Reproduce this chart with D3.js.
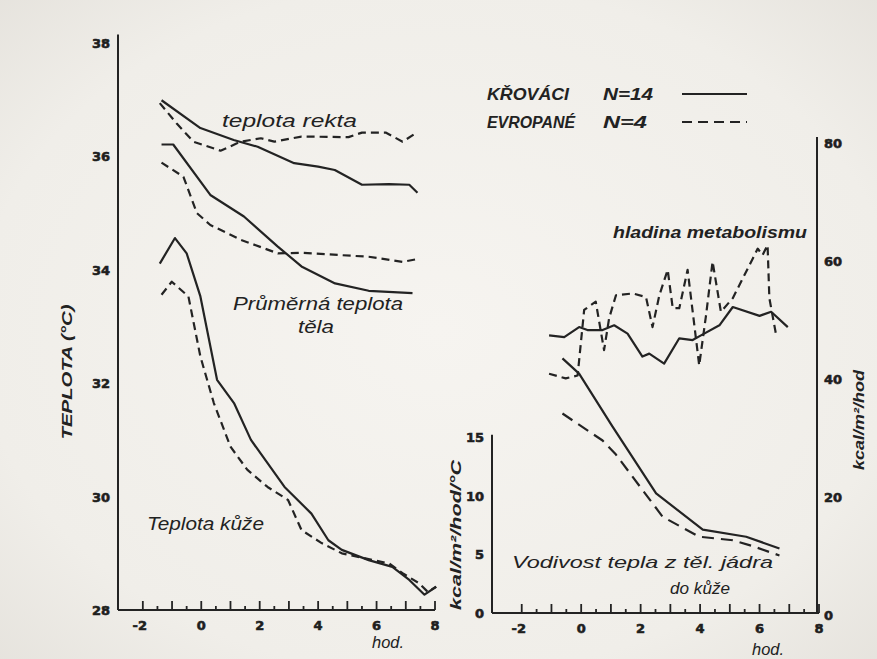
<!DOCTYPE html>
<html>
<head>
<meta charset="utf-8">
<script src="https://cdn.jsdelivr.net/npm/d3@7"></script>
<style>
  html, body { margin: 0; padding: 0; background: #efede8; }
  svg { display: block; }
  .tick-lbl { font-family: "DejaVu Sans", sans-serif; font-weight: bold; font-size: 13px; fill: #1e1e1e; stroke: #1e1e1e; stroke-width: 0.6px; }
  .hand { font-family: "Liberation Sans", "DejaVu Sans", sans-serif; font-style: italic; fill: #222; }
</style>
</head>
<body>
<svg id="chart" width="877" height="659"></svg>
<script>
// Hours relative to start of exposure; temperatures in °C
const xTicksLabelled = [-2, 0, 2, 4, 6, 8];
const tempTicks = [28, 30, 32, 34, 36, 38];
const condTicks = [0, 5, 10, 15];
const metTicks = [0, 20, 40, 60, 80];

// Rectal temperature
const rectalKrovaci = [[-1.36,36.99],[-0.03,36.50],[1.11,36.29],[1.93,36.17],[3.18,35.88],[4.0,35.82],[4.57,35.76],[5.5,35.50],[6.42,35.51],[7.12,35.50],[7.4,35.36]];
const rectalEvropane = [[-1.42,36.94],[-0.84,36.58],[-0.27,36.26],[0.66,36.10],[1.35,36.26],[2.04,36.32],[2.5,36.26],[3.43,36.35],[5.04,36.34],[5.5,36.42],[6.31,36.42],[6.89,36.26],[7.35,36.41]];

// Mean body temperature
const bodyKrovaci = [[-1.36,36.21],[-0.96,36.21],[0.31,35.32],[1.46,34.94],[2.62,34.41],[3.43,34.06],[4.58,33.76],[5.73,33.63],[7.23,33.59]];
const bodyEvropane = [[-1.36,35.89],[-0.61,35.64],[-0.15,35.00],[0.31,34.79],[1.35,34.53],[2.62,34.29],[3.43,34.30],[5.73,34.23],[6.89,34.14],[7.4,34.19]];

// Skin temperature
const skinKrovaci = [[-1.42,34.11],[-0.9,34.56],[-0.5,34.29],[-0.03,33.53],[0.54,32.06],[1.12,31.65],[1.7,31.0],[2.85,30.17],[3.77,29.70],[4.35,29.23],[4.81,29.06],[5.73,28.88],[6.54,28.76],[7.12,28.53],[7.64,28.27],[8.04,28.41]];
const skinEvropane = [[-1.36,33.56],[-1.01,33.79],[-0.44,33.53],[-0.03,32.47],[0.43,31.65],[1.0,30.88],[1.58,30.47],[2.27,30.17],[2.97,29.94],[3.43,29.41],[4.12,29.18],[4.81,29.0],[6.43,28.82],[6.89,28.65],[7.46,28.47],[7.75,28.32],[8.04,28.41]];

// Metabolic rate, kcal/m²/hod
const metKrovaci = [[-1.08,47.4],[-0.57,47.1],[-0.07,48.8],[0.21,48.3],[0.72,48.3],[1.11,49.1],[1.56,47.7],[2.06,43.8],[2.29,44.3],[2.79,42.6],[3.3,46.9],[3.75,46.6],[4.03,47.4],[4.65,49.1],[5.1,52.2],[6.0,50.7],[6.39,51.4],[6.95,48.8]];
const metEvropane = [[-1.08,40.9],[-0.52,40.1],[-0.12,40.6],[0.1,51.7],[0.49,53.1],[0.77,44.9],[0.94,50.3],[1.17,54.2],[1.73,54.5],[2.18,53.9],[2.4,48.8],[2.63,54.2],[2.91,58.5],[3.08,52.0],[3.3,52.0],[3.58,58.5],[3.86,46.9],[3.97,42.3],[4.2,50.8],[4.42,59.9],[4.7,51.4],[5.1,53.7],[5.77,60.4],[5.94,62.1],[6.1,61.0],[6.27,62.7],[6.33,53.7],[6.56,47.4]];

// Heat conductance core -> skin, kcal/m²/hod/°C
const condKrovaci = [[-0.63,21.7],[-0.07,20.4],[1.05,15.9],[2.52,10.2],[4.09,7.1],[5.55,6.5],[6.67,5.5]];
const condEvropane = [[-0.63,17.0],[0.72,14.7],[1.17,13.5],[2.74,8.2],[3.97,6.5],[5.1,6.2],[5.77,5.7],[6.67,4.9]];

const legendRows = [
  { group: "KŘOVÁCI", n: "N=14", dash: null },
  { group: "EVROPANÉ", n: "N=4", dash: "10,6" }
];

const INK = "#232323";
const DASH = "8,5";
const svg = d3.select("#chart");

// paper background with a slight darkening towards the edges
const defs = svg.append("defs");
const grad = defs.append("radialGradient").attr("id", "paper").attr("cx", "50%").attr("cy", "50%").attr("r", "75%");
grad.append("stop").attr("offset", "0%").attr("stop-color", "#f6f4f0");
grad.append("stop").attr("offset", "70%").attr("stop-color", "#f0eee9");
grad.append("stop").attr("offset", "100%").attr("stop-color", "#e4e1db");
svg.append("rect").attr("width", 877).attr("height", 659).attr("fill", "url(#paper)");

const halfHours = d3.range(-2, 8.01, 0.5);

// ---------- left panel: temperatures ----------
const xL = d3.scaleLinear().domain([-2.85, 8]).range([118, 435]);
const yT = d3.scaleLinear().domain([28, 38]).range([610, 43]);

const gL = svg.append("g");
gL.append("line").attr("x1", xL(-2.85)).attr("x2", xL(-2.85))
  .attr("y1", yT(28)).attr("y2", yT(38.15)).attr("stroke", INK).attr("stroke-width", 2);
gL.append("line").attr("x1", xL(-2.85)).attr("x2", xL(8))
  .attr("y1", yT(28)).attr("y2", yT(28)).attr("stroke", INK).attr("stroke-width", 2);

function drawHourTicks(g, x, yBase) {
  g.selectAll(null).data(halfHours).enter().append("line")
    .attr("x1", d => x(d)).attr("x2", d => x(d))
    .attr("y1", yBase).attr("y2", d => yBase - (Number.isInteger(d) ? 9 : 4))
    .attr("stroke", INK).attr("stroke-width", 1.8);
  g.selectAll(null).data(xTicksLabelled).enter().append("text")
    .attr("class", "tick-lbl").attr("x", d => x(d) - (d < 0 ? 3 : 0)).attr("y", yBase + 20)
    .attr("text-anchor", "middle").text(d => d);
}
drawHourTicks(gL, xL, yT(28));

gL.selectAll(null).data(tempTicks).enter().append("text")
  .attr("class", "tick-lbl").attr("x", 110).attr("y", d => yT(d) + 5)
  .attr("text-anchor", "end").text(d => d);

gL.append("text").attr("class", "hand")
  .attr("transform", "translate(72,372) rotate(-90)")
  .attr("text-anchor", "middle").attr("font-size", 14).attr("font-weight", "bold")
  .attr("textLength", 135).attr("lengthAdjust", "spacingAndGlyphs")
  .text("TEPLOTA (°C)");

const lineL = d3.line().x(d => xL(d[0])).y(d => yT(d[1]));
[[rectalKrovaci, null], [rectalEvropane, DASH], [bodyKrovaci, null], [bodyEvropane, DASH],
 [skinKrovaci, null], [skinEvropane, DASH]].forEach(([data, dash]) => {
  gL.append("path").attr("d", lineL(data)).attr("fill", "none")
    .attr("stroke", INK).attr("stroke-width", 2.2)
    .attr("stroke-linejoin", "round").attr("stroke-dasharray", dash);
});

function handText(g, txt, x, y, size, width, bold) {
  g.append("text").attr("class", "hand").attr("x", x).attr("y", y)
    .attr("font-size", size).attr("font-weight", bold ? "bold" : "normal")
    .attr("textLength", width).attr("lengthAdjust", "spacingAndGlyphs").text(txt);
}
handText(gL, "teplota rekta", 222, 127, 18, 135, false);
handText(gL, "Průměrná teplota", 233, 310, 18, 170, false);
handText(gL, "těla", 298, 333, 18, 36, false);
handText(gL, "Teplota kůže", 147, 530, 18, 117, false);
handText(gL, "hod.", 372, 648, 16, 32, false);

// ---------- right panel: metabolism and conductance ----------
const xR = d3.scaleLinear().domain([-3, 8]).range([492, 819]);
const yC = d3.scaleLinear().domain([0, 15]).range([613, 437]);
const yM = d3.scaleLinear().domain([0, 80]).range([615, 143]);

const gR = svg.append("g");
gR.append("line").attr("x1", xR(-3)).attr("x2", xR(-3))
  .attr("y1", yC(0)).attr("y2", yC(15.2)).attr("stroke", INK).attr("stroke-width", 2);
gR.append("line").attr("x1", xR(-3)).attr("x2", xR(8))
  .attr("y1", yC(0)).attr("y2", yC(0)).attr("stroke", INK).attr("stroke-width", 2);
gR.append("line").attr("x1", xR(8) - 2).attr("x2", xR(8) - 2)
  .attr("y1", yC(0)).attr("y2", yM(81)).attr("stroke", INK).attr("stroke-width", 2);
drawHourTicks(gR, xR, yC(0));

gR.selectAll(null).data(condTicks).enter().append("text")
  .attr("class", "tick-lbl").attr("x", 484).attr("y", d => yC(d) + 5)
  .attr("text-anchor", "end").text(d => d);
gR.selectAll(null).data(metTicks).enter().append("text")
  .attr("class", "tick-lbl").attr("x", 824).attr("y", d => yM(d) + 5)
  .attr("text-anchor", "start").text(d => d);

gR.append("text").attr("class", "hand")
  .attr("transform", "translate(461,535) rotate(-90)")
  .attr("text-anchor", "middle").attr("font-size", 15).attr("font-weight", "bold")
  .attr("textLength", 150).attr("lengthAdjust", "spacingAndGlyphs")
  .text("kcal/m²/hod/°C");
gR.append("text").attr("class", "hand")
  .attr("transform", "translate(864,420) rotate(-90)")
  .attr("text-anchor", "middle").attr("font-size", 15).attr("font-weight", "bold")
  .attr("textLength", 100).attr("lengthAdjust", "spacingAndGlyphs")
  .text("kcal/m²/hod");

const lineC = d3.line().x(d => xR(d[0])).y(d => yC(d[1]));
const lineM = d3.line().x(d => xR(d[0])).y(d => yM(d[1]));
[[lineM(metKrovaci), null], [lineM(metEvropane), DASH],
 [lineC(condKrovaci), null], [lineC(condEvropane), "12,7"]].forEach(([d, dash]) => {
  gR.append("path").attr("d", d).attr("fill", "none")
    .attr("stroke", INK).attr("stroke-width", 2.2)
    .attr("stroke-linejoin", "round").attr("stroke-dasharray", dash);
});

handText(gR, "hladina metabolismu", 613, 238, 17, 194, true);
handText(gR, "Vodivost tepla z těl. jádra", 512, 568, 17, 261, false);
handText(gR, "do kůže", 670, 594, 17, 60, false);
handText(gR, "hod.", 752, 655, 16, 32, false);

// ---------- legend ----------
const gLeg = svg.append("g");
legendRows.forEach((r, i) => {
  const y = 100 + i * 28;
  handText(gLeg, r.group, 487, y, 16, r.group.length > 7 ? 88 : 82, true);
  handText(gLeg, r.n, 603, y, 16, r.n.length > 3 ? 50 : 44, true);
  gLeg.append("line").attr("x1", 682).attr("x2", 747).attr("y1", y - 6).attr("y2", y - 6)
    .attr("stroke", INK).attr("stroke-width", 2).attr("stroke-dasharray", r.dash);
});
</script>
</body>
</html>
